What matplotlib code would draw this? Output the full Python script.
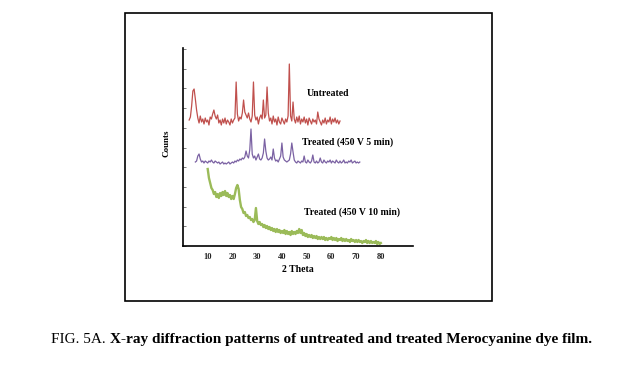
import numpy as np
import matplotlib
matplotlib.use("Agg")
from matplotlib import pyplot as plt
from matplotlib.patches import Rectangle

# counts (arbitrary units, offset stacked as in the figure)
untreated = [126, 129, 140, 155, 157, 147, 136, 128, 123, 130, 124, 127, 122, 128, 124, 126,
             121, 129, 127, 132, 136, 130, 127, 131, 123, 126, 121, 127, 123, 128, 122, 126,
             124, 121, 127, 123, 126, 128, 164, 132, 125, 129, 127, 133, 146, 134, 131, 128,
             133, 127, 124, 130, 164, 131, 126, 129, 122, 128, 131, 127, 146, 128, 131, 159,
             133, 125, 128, 122, 130, 124, 127, 121, 129, 124, 122, 128, 125, 122, 127, 124,
             130, 182, 130, 125, 144, 127, 123, 129, 124, 130, 122, 127, 124, 129, 123, 127,
             121, 128, 125, 122, 127, 124, 126, 122, 134, 127, 124, 121, 126, 123, 128, 122,
             126, 124, 129, 122, 127, 124, 128, 123, 126, 122, 125]
treated_5 = [84, 85, 90, 92, 87, 84, 85, 83, 85, 84, 83, 85, 84, 86, 84, 83, 85, 84, 83, 84,
             82, 83, 84, 82, 83, 82, 83, 84, 82, 83, 84, 83, 85, 84, 86, 85, 87, 86, 88, 87,
             89, 95, 90, 88, 96, 117, 92, 88, 90, 86, 89, 92, 87, 86, 88, 93, 107, 95, 88, 86,
             87, 89, 86, 97, 88, 85, 86, 84, 87, 90, 103, 89, 86, 85, 84, 85, 86, 92, 103, 94,
             86, 84, 83, 85, 84, 83, 85, 84, 90, 84, 83, 86, 84, 83, 85, 91, 84, 83, 85, 83,
             84, 88, 84, 83, 86, 84, 83, 85, 84, 86, 83, 85, 84, 83, 86, 84, 83, 85, 83, 84,
             86, 83, 84, 83, 85, 84, 86, 83, 84, 85, 83, 84, 83, 84]
treated_10 = [77, 68, 63, 58, 56, 52, 54, 49, 52, 48, 53, 50, 54, 51, 55, 50, 53, 49, 51, 47,
              50, 47, 52, 58, 61, 57, 46, 39, 37, 33, 34, 30, 31, 28, 29, 26, 27, 24, 26, 38,
              25, 22, 24, 21, 22, 19, 21, 18, 20, 17, 19, 16, 18, 15, 17, 14, 17, 14, 16, 13,
              15, 13, 16, 12, 15, 12, 14, 11, 15, 12, 14, 12, 15, 13, 17, 13, 16, 11, 13, 10,
              12, 9, 11, 9, 11, 8, 10, 8, 10, 7, 9, 7, 9, 7, 9, 6, 8, 6, 8, 7,
              9, 6, 8, 6, 8, 5, 7, 6, 8, 5, 7, 5, 7, 5, 6, 4, 7, 5, 6, 4,
              6, 4, 6, 4, 5, 3, 5, 4, 6, 3, 5, 3, 5, 3, 4, 3, 5, 2, 4, 2, 3]

# scan start angles, 0.5 deg step
start_untreated, start_5, start_10 = 2.5, 5.0, 10.0
step = 0.5

x_ticks = [10, 20, 30, 40, 50, 60, 70, 80]
labels = ["Untreated", "Treated (450 V 5 min)", "Treated (450 V 10 min)"]
caption_a = "FIG. 5A. "
caption_b = "X-ray diffraction patterns of untreated and treated Merocyanine dye film."

serif = ["Liberation Serif", "DejaVu Serif"]

fig = plt.figure(figsize=(6.38, 3.69), dpi=100)
fig.patch.set_facecolor("white")

# outer frame round the chart
fig.patches.append(Rectangle((0.196, 0.184), 0.575, 0.78, transform=fig.transFigure,
                             fill=False, edgecolor="black", linewidth=1.2))

ax = fig.add_axes([0.2868, 0.3333, 0.3605, 0.5366])

x1 = start_untreated + step * np.arange(len(untreated))
x2 = start_5 + step * np.arange(len(treated_5))
x3 = start_10 + step * np.arange(len(treated_10))

ax.plot(x1, untreated, color="#c0504d", lw=0.9)
ax.plot(x2, treated_5, color="#7b62a3", lw=0.9)
ax.plot(x3, treated_10, color="#9bbb59", lw=1.7)

ax.set_xlim(0, 93)
ax.set_ylim(0, 198)

for sp in ["top", "right"]:
    ax.spines[sp].set_visible(False)
for sp in ["left", "bottom"]:
    ax.spines[sp].set_linewidth(1.2)

ax.set_xticks(x_ticks)
ax.set_xticklabels([str(t) for t in x_ticks], fontfamily=serif, fontweight="bold",
                   fontsize=6, color="#222222")
ax.tick_params(axis="x", length=0, pad=5)
ax.set_yticks(np.arange(0, 198, 19.7))
ax.set_yticklabels([])
ax.tick_params(axis="y", direction="in", length=2.5, width=0.6, color="#666666")

ax.text(49.9, 152.7, labels[0], fontfamily=serif, fontweight="bold", fontsize=7, va="center")
ax.text(48.2, 104.3, labels[1], fontfamily=serif, fontweight="bold", fontsize=7, va="center")
ax.text(48.8, 34.3, labels[2], fontfamily=serif, fontweight="bold", fontsize=7, va="center")

fig.text(0.2613, 0.6125, "Counts", rotation=90, fontfamily=serif, fontweight="bold",
         fontsize=6.5, ha="center", va="center")
fig.text(0.467, 0.2683, "2 Theta", fontfamily=serif, fontweight="bold",
         fontsize=7, ha="center", va="center")

# caption: first part plain, rest bold
t1 = fig.text(0.08, 0.0813, caption_a, fontfamily=serif, fontsize=11, va="center")
fig.canvas.draw()
bb = t1.get_window_extent()
fig.text(bb.x1 / fig.bbox.width, 0.0813, caption_b, fontfamily=serif, fontweight="bold",
         fontsize=11, va="center")

fig.savefig("out.png", dpi=100)
